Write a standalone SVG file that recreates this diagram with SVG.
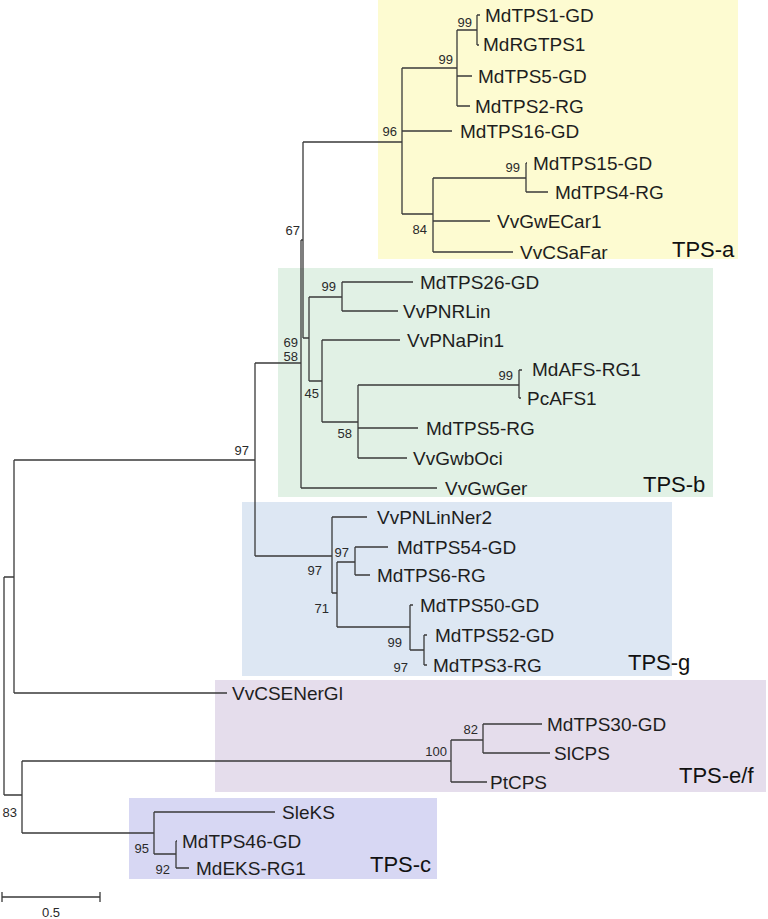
<svg xmlns="http://www.w3.org/2000/svg" width="768" height="919" viewBox="0 0 768 919">
<style>
.tip{font-family:"Liberation Sans",Arial,sans-serif;font-size:19px;fill:#1e1e1e}
.sup{font-family:"Liberation Sans",Arial,sans-serif;font-size:13px;fill:#2a2a2a;text-anchor:end}
.clade{font-family:"Liberation Sans",Arial,sans-serif;font-size:22px;fill:#111}
.br{fill:none;stroke:#3a3a3a;stroke-width:1.3}
</style>
<rect width="768" height="919" fill="#ffffff"/>
<g id="clade-boxes">
<rect id="box-tps-a" x="378" y="0" width="360" height="259" fill="#fdfbd1"/>
<rect id="box-tps-b" x="278" y="268" width="435" height="229" fill="#e1f1e5"/>
<rect id="box-tps-g" x="242" y="502" width="430" height="174" fill="#dde7f3"/>
<rect id="box-tps-ef" x="215" y="680" width="551" height="112" fill="#e5ddec"/>
<rect id="box-tps-c" x="129" y="798" width="308" height="81" fill="#d7d7f3"/>
</g>
<g id="connectors">
<path class="br" d="M4 577V795 M4 577H14 M4 795H22 M14 460V693 M14 460H255 M14 693H227 M255 363V556 M255 363H301 M255 556H332 M301 240V488 M301 240H303 M301 488H437 M303 142V338 M303 142H402 M303 338H309"/>
<path class="br" d="M402 68V214 M402 68H457 M402 131H452 M402 214H433 M457 30V106 M457 30H477 M457 76H472 M457 106H470 M477 15V45 M477 15H480 M477 45H479 M433 178V252 M433 178H526 M433 221H490 M433 252H513 M526 163V192 M526 163H527 M526 192H548"/>
<path class="br" d="M309 297V381 M309 297H342 M309 381H322 M342 282V311 M342 282H413 M342 311H398 M322 340V422 M322 340H400 M322 422H358 M358 385V458 M358 385H519 M358 428H418 M358 458H407 M519 370V398 M519 370H522 M519 398H521"/>
<path class="br" d="M332 517V593 M332 517H367 M332 593H337 M337 562V627 M337 562H355 M337 627H410 M355 547V575 M355 547H388 M355 575H370 M410 605V650 M410 605H413 M410 650H424 M424 635V665 M424 635H427 M424 665H427"/>
<path class="br" d="M22 761V833 M22 761H451 M451 740V782 M451 740H483 M451 782H487 M483 724V753 M483 724H542 M483 753H550"/>
<path class="br" d="M22 833H154 M154 812V854 M154 812H275 M154 854H176 M176 841V868 M176 841H177 M176 868H189"/>
</g>
<g id="support-values">
<text class="sup" x="472" y="27">99</text>
<text class="sup" x="453" y="64">99</text>
<text class="sup" x="397" y="136">96</text>
<text class="sup" x="520" y="172">99</text>
<text class="sup" x="427" y="234">84</text>
<text class="sup" x="300" y="235">67</text>
<text class="sup" x="298" y="347">69</text>
<text class="sup" x="298" y="361">58</text>
<text class="sup" x="336" y="291">99</text>
<text class="sup" x="319" y="398">45</text>
<text class="sup" x="352" y="438">58</text>
<text class="sup" x="513" y="380">99</text>
<text class="sup" x="249" y="455">97</text>
<text class="sup" x="322" y="575">97</text>
<text class="sup" x="329" y="613">71</text>
<text class="sup" x="349" y="557">97</text>
<text class="sup" x="402" y="647">99</text>
<text class="sup" x="408" y="672">97</text>
<text class="sup" x="447" y="756">100</text>
<text class="sup" x="478" y="734">82</text>
<text class="sup" x="149" y="853">95</text>
<text class="sup" x="170" y="874">92</text>
<text class="sup" x="17" y="817">83</text>
</g>
<g id="tips">
<g id="MdTPS1-GD"><text class="tip" x="485" y="22">MdTPS1-GD</text></g>
<g id="MdRGTPS1"><text class="tip" x="483" y="51">MdRGTPS1</text></g>
<g id="MdTPS5-GD"><text class="tip" x="478" y="83">MdTPS5-GD</text></g>
<g id="MdTPS2-RG"><text class="tip" x="475" y="113">MdTPS2-RG</text></g>
<g id="MdTPS16-GD"><text class="tip" x="460" y="138">MdTPS16-GD</text></g>
<g id="MdTPS15-GD"><text class="tip" x="533" y="170">MdTPS15-GD</text></g>
<g id="MdTPS4-RG"><text class="tip" x="555" y="199">MdTPS4-RG</text></g>
<g id="VvGwECar1"><text class="tip" x="497" y="228">VvGwECar1</text></g>
<g id="VvCSaFar"><text class="tip" x="520" y="259">VvCSaFar</text></g>
<g id="MdTPS26-GD"><text class="tip" x="420" y="289">MdTPS26-GD</text></g>
<g id="VvPNRLin"><text class="tip" x="403" y="318">VvPNRLin</text></g>
<g id="VvPNaPin1"><text class="tip" x="407" y="347">VvPNaPin1</text></g>
<g id="MdAFS-RG1"><text class="tip" x="532" y="376">MdAFS-RG1</text></g>
<g id="PcAFS1"><text class="tip" x="527" y="405">PcAFS1</text></g>
<g id="MdTPS5-RG"><text class="tip" x="426" y="435">MdTPS5-RG</text></g>
<g id="VvGwbOci"><text class="tip" x="413" y="465">VvGwbOci</text></g>
<g id="VvGwGer"><text class="tip" x="445" y="495">VvGwGer</text></g>
<g id="VvPNLinNer2"><text class="tip" x="377" y="524">VvPNLinNer2</text></g>
<g id="MdTPS54-GD"><text class="tip" x="397" y="554">MdTPS54-GD</text></g>
<g id="MdTPS6-RG"><text class="tip" x="377" y="582">MdTPS6-RG</text></g>
<g id="MdTPS50-GD"><text class="tip" x="420" y="612">MdTPS50-GD</text></g>
<g id="MdTPS52-GD"><text class="tip" x="435" y="642">MdTPS52-GD</text></g>
<g id="MdTPS3-RG"><text class="tip" x="433" y="672">MdTPS3-RG</text></g>
<g id="VvCSENerGl"><text class="tip" x="232" y="700">VvCSENerGl</text></g>
<g id="MdTPS30-GD"><text class="tip" x="547" y="731">MdTPS30-GD</text></g>
<g id="SlCPS"><text class="tip" x="554" y="760">SlCPS</text></g>
<g id="PtCPS"><text class="tip" x="490" y="789">PtCPS</text></g>
<g id="SleKS"><text class="tip" x="282" y="819">SleKS</text></g>
<g id="MdTPS46-GD"><text class="tip" x="182" y="848">MdTPS46-GD</text></g>
<g id="MdEKS-RG1"><text class="tip" x="196" y="875">MdEKS-RG1</text></g>
</g>
<g id="clade-labels">
<text class="clade" x="672" y="257">TPS-a</text>
<text class="clade" x="643" y="492">TPS-b</text>
<text class="clade" x="628" y="670">TPS-g</text>
<text class="clade" x="679" y="783">TPS-e/f</text>
<text class="clade" x="370" y="872">TPS-c</text>
</g>
<g id="scale-bar">
<path class="br" d="M2 897H100 M2 892V902 M100 892V902"/>
<text class="sup" x="51" y="917" style="text-anchor:middle">0.5</text>
</g>
</svg>
